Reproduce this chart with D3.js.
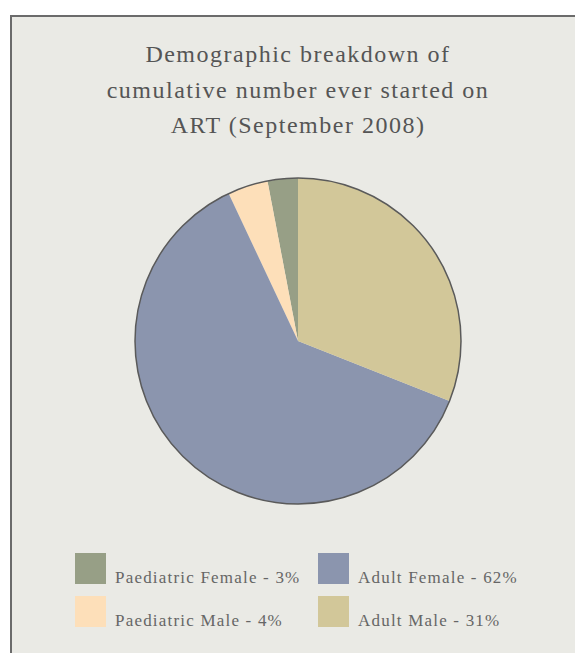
<!DOCTYPE html>
<html lang="en">
  <head>
    <meta charset="UTF-8" />
    <title>ART demographic breakdown</title>
    <script src="https://d3js.org/d3.v7.min.js"></script>
    <style>
      body { margin: 0; background: #ffffff; }
    </style>
  </head>
  <body>
    <script>
      // data
      var categories = ["Paediatric Female", "Paediatric Male", "Adult Female", "Adult Male"];
      var values = [3, 4, 62, 31];
      var colours = ["#979f86", "#fddfb9", "#8b95ae", "#d2c799"];
      var titleLines = ["Demographic breakdown of", "cumulative number ever started on", "ART (September 2008)"];

      var width = 575, height = 653;

      var svg = d3
        .select("body")
        .append("svg")
        .attr("width", width)
        .attr("height", height);

      // panel
      svg
        .append("rect")
        .attr("x", 11)
        .attr("y", 16)
        .attr("width", 600)
        .attr("height", 700)
        .attr("fill", "#eaeae5")
        .attr("stroke", "#6b6b6b")
        .attr("stroke-width", 2);

      svg
        .append("g")
        .selectAll("text")
        .data(titleLines)
        .enter()
        .append("text")
        .attr("x", 298)
        .attr("y", function (d, i) {
          return 62 + i * 35.5;
        })
        .attr("text-anchor", "middle")
        .style("font-family", "'Liberation Serif', serif")
        .style("font-size", "24px")
        .style("letter-spacing", "1.5px")
        .style("fill", "#555555")
        .text(function (d) {
          return d;
        });

      var data = categories.map(function (c, i) {
        return { name: c, value: values[i], colour: colours[i] };
      });

      var radius = 163;
      // order: Adult Male clockwise from 12 o'clock, then Adult Female, Paediatric Male, Paediatric Female
      var drawOrder = [3, 2, 1, 0];
      var pie = d3
        .pie()
        .sort(function (a, b) {
          return drawOrder.indexOf(categories.indexOf(a.name)) - drawOrder.indexOf(categories.indexOf(b.name));
        })
        .value(function (d) {
          return d.value;
        });

      var arc = d3.arc().innerRadius(0).outerRadius(radius);

      var pieG = svg
        .append("g")
        .attr("transform", "translate(298,341)");

      pieG
        .selectAll("path")
        .data(pie(data))
        .enter()
        .append("path")
        .attr("d", arc)
        .attr("fill", function (d) {
          return d.data.colour;
        });

      pieG
        .append("circle")
        .attr("r", radius)
        .attr("fill", "none")
        .attr("stroke", "#5a5a5a")
        .attr("stroke-width", 1.5);

      // legend, two columns
      var legendX = d3.scaleOrdinal().domain([0, 1]).range([75, 318]);
      var legendY = d3.scaleOrdinal().domain([0, 1]).range([553, 596]);
      var legendOrder = [0, 2, 1, 3];

      var legend = svg
        .append("g")
        .selectAll("g")
        .data(legendOrder)
        .enter()
        .append("g")
        .attr("transform", function (d, i) {
          return "translate(" + legendX(i % 2) + "," + legendY(Math.floor(i / 2)) + ")";
        });

      legend
        .append("rect")
        .attr("width", 31)
        .attr("height", 31)
        .attr("fill", function (d) {
          return colours[d];
        });

      legend
        .append("text")
        .attr("x", 40)
        .attr("y", 30)
        .style("font-family", "'Liberation Serif', serif")
        .style("font-size", "17px")
        .style("letter-spacing", "1.2px")
        .style("fill", "#666666")
        .text(function (d) {
          return categories[d] + " - " + values[d] + "%";
        });
    </script>
  </body>
</html>
